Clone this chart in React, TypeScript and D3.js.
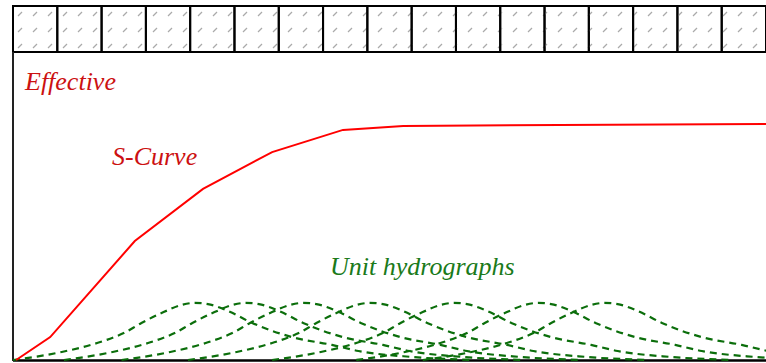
import React from "react";
import * as d3 from "d3";

// rainfall blocks (one per hour)
const rainBlocks = d3.range(17);

// S-curve: time (h) vs fraction of equilibrium
const sTime = [0.07, 0.84, 2.75, 4.29, 5.85, 7.45, 8.81, 17];
const sValue = [0, 0.097, 0.504, 0.725, 0.881, 0.975, 0.992, 1.0];

// unit hydrograph ordinates, time from start of block
const uhTime = [0, 1.1, 1.9, 2.5, 2.9, 3.4, 3.8, 4.1, 4.4, 4.85, 5.4, 6.3, 7.2, 7.8, 9.0, 10.4];
const uhValue = [0, 0.034, 0.072, 0.114, 0.157, 0.203, 0.233, 0.242, 0.237, 0.208, 0.157, 0.097, 0.064, 0.038, 0.013, 0];

// lag of each lagged unit hydrograph (h)
const lags = [0, 1.15, 2.45, 3.95, 5.85, 7.75, 9.25];

const W = 766;
const H = 363;

export default function App() {
  const x = d3.scaleLinear().domain([0, 17]).range([13, 766]);
  const y = d3.scaleLinear().domain([0, 1]).range([360, 124]);

  const sLine = d3
    .line<number>()
    .x((_, i) => x(sTime[i]))
    .y((d) => y(d));

  const uhLine = (lag: number) =>
    d3
      .line<number>()
      .x((_, i) => x(uhTime[i] + lag))
      .y((d) => y(d))
      .curve(d3.curveMonotoneX)(uhValue) as string;

  const bandTop = 6;
  const bandBottom = 52;
  const serif = "'Liberation Serif', 'Times New Roman', 'DejaVu Serif', serif";

  return (
    <svg
      width={W}
      height={H}
      style={{ position: "absolute", left: 0, top: 0, background: "#fff" }}
    >
      <defs>
        <pattern id="hatch" patternUnits="userSpaceOnUse" x={13} y={6} width={15} height={16}>
          <line x1={5} y1={10} x2={9} y2={6} stroke="#aaa" strokeWidth={1.2} />
        </pattern>
      </defs>

      {/* rainfall band */}
      {rainBlocks.map((i) => (
        <rect
          key={i}
          x={x(i)}
          y={bandTop}
          width={x(i + 1) - x(i)}
          height={bandBottom - bandTop}
          fill="url(#hatch)"
          stroke="#000"
          strokeWidth={2}
        />
      ))}

      {/* axes */}
      <line x1={13} y1={bandBottom} x2={13} y2={361} stroke="#222" strokeWidth={2} />
      <line x1={13} y1={360.5} x2={W} y2={360.5} stroke="#000" strokeWidth={2.5} />

      {/* unit hydrographs */}
      {lags.map((lag, i) => (
        <path
          key={i}
          d={uhLine(lag)}
          fill="none"
          stroke="#0b6e0b"
          strokeWidth={2.2}
          strokeDasharray="7,5"
        />
      ))}

      {/* S-curve */}
      <path d={sLine(sValue) as string} fill="none" stroke="#ff0000" strokeWidth={2} />

      <g style={{ fontFamily: serif, fontStyle: "italic", fontSize: "26px" }}>
        <text x={25} y={90} fill="#cc1111">Effective</text>
        <text x={112} y={165} fill="#cc1111">S-Curve</text>
        <text x={330} y={275} fill="#1a7a1a">Unit hydrographs</text>
      </g>
    </svg>
  );
}
